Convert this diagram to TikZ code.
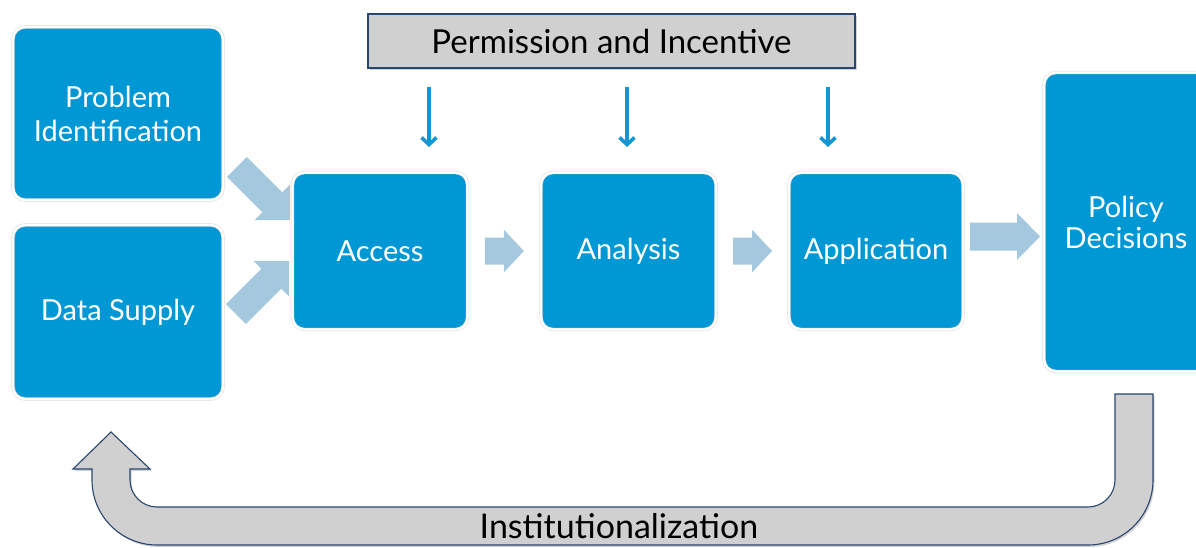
\documentclass[tikz,border=0pt]{standalone}
\usepackage{fontspec}
\setmainfont{Lato}
\usetikzlibrary{arrows.meta,calc,shadows}
\definecolor{boxblue}{RGB}{0,152,212}
\definecolor{arrowblue}{RGB}{164,200,222}
\definecolor{pinblue}{RGB}{20,150,210}
\definecolor{graybox}{RGB}{208,208,208}
\definecolor{navy}{RGB}{40,70,110}
\pgfdeclarelayer{bg}
\pgfsetlayers{bg,main}
\newcommand\barrow[4]{(-#1/2,-#2) -- (#1/2-#4,-#2) -- (#1/2-#4,-#3) -- (#1/2,0) -- (#1/2-#4,#3) -- (#1/2-#4,#2) -- (-#1/2,#2) -- cycle}
\begin{document}
\begin{tikzpicture}[x=1pt,y=-1pt,
  bluebox/.style={rounded corners=12pt, fill=boxblue, draw=black!15, double=white,
    double distance=2.4pt, line width=0.5pt, text=white,
    font=\fontsize{29}{34}\selectfont, align=center, inner sep=0pt},
  blk/.style={fill=arrowblue},
  pinarrow/.style={draw=pinblue, line width=3.6pt, -{Straight Barb[length=7pt,width=15pt]}},
  graystyle/.style={fill=graybox, draw=navy, line width=1.1pt,
    drop shadow={shadow xshift=1.5pt, shadow yshift=-2pt, opacity=0.35}}]
\useasboundingbox (0,0) rectangle (1196,548);
\clip (0,0) rectangle (1196,548);
% boxes
\node[bluebox, minimum width=210pt, minimum height=173pt] (prob) at (118,113.5) {Problem\\Identification};
\node[bluebox, minimum width=210pt, minimum height=174pt] (data) at (118,312) {Data Supply};
\node[bluebox, minimum width=175pt, minimum height=157pt] (access) at (380,251) {Access};
\node[bluebox, minimum width=175pt, minimum height=157pt] (analysis) at (628.5,251) {Analysis};
\node[bluebox, minimum width=174pt, minimum height=157pt] (application) at (876,251) {Application};
\node[bluebox, minimum width=164pt, minimum height=299pt, font=\fontsize{29}{31}\selectfont] (policy) at (1126,222) {Policy\\Decisions};
% permission box
\node[graystyle, minimum width=487pt, minimum height=54pt, inner sep=0pt,
  font=\fontsize{33}{36}\selectfont] (perm) at (611.5,41) {Permission and Incentive};
\coordinate (p1s) at (429,87);  \coordinate (p1e) at (429,147);
\coordinate (p2s) at (627,87);  \coordinate (p2e) at (627,147);
\coordinate (p3s) at (828,87);  \coordinate (p3e) at (828,147);
\draw[pinarrow] (p1s) -- (p1e);
\draw[pinarrow] (p2s) -- (p2e);
\draw[pinarrow] (p3s) -- (p3e);
% institutionalization U-arrow
\draw[graystyle] (111,432) -- (150,469) -- (130,469) -- (130,480)
  .. controls (130,494.9) and (142.1,507) .. (157,507) -- (1088,507)
  .. controls (1102.9,507) and (1115,494.9) .. (1115,480) -- (1115,394)
  -- (1153,394) -- (1153,480)
  .. controls (1153,515.9) and (1123.9,545) .. (1088,545) -- (157,545)
  .. controls (121.1,545) and (92,515.9) .. (92,480) -- (92,469) -- (73,469) -- cycle;
\node[font=\fontsize{34}{36}\selectfont, inner sep=0pt] (inst) at (619,526) {Institutionalization};
% block arrows
\begin{pgfonlayer}{bg}
\fill[blk, shift={(263.5,193.5)}, rotate=-45] \barrow{75}{14}{25}{25};
\fill[blk, shift={(262.5,287.5)}, rotate=45] \barrow{75}{14}{25}{25};
\fill[blk, shift={($(access.east)!0.5!(analysis.west)$)}] \barrow{39}{13.5}{21.5}{20};
\fill[blk, shift={($(analysis.east)!0.5!(application.west)$)}] \barrow{39}{13.5}{21.5}{20};
\fill[blk, shift={($(application.east)!0.5!(policy.west)+(1.5,0)$)}] \barrow{70}{14}{23.5}{23};
\end{pgfonlayer}
\end{tikzpicture}
\end{document}
